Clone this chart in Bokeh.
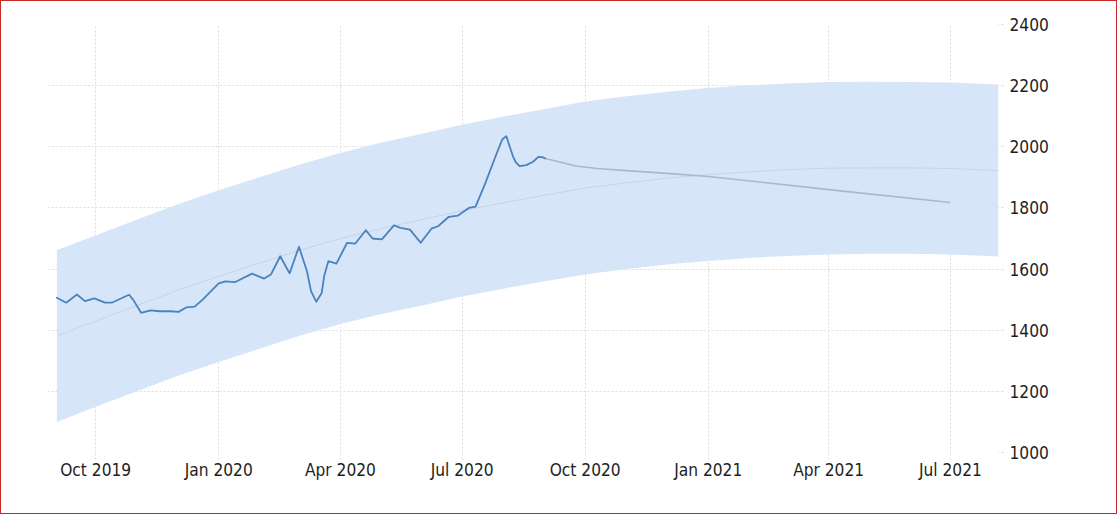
import pandas as pd
from bokeh.plotting import figure
from bokeh.models import ColumnDataSource, FixedTicker, DatetimeTickFormatter, Range1d
from bokeh.embed import file_html
from bokeh.resources import INLINE

# ---- data ----
price_dates = [
    "2019-09-02", "2019-09-09", "2019-09-17", "2019-09-23", "2019-09-30", "2019-10-08",
    "2019-10-13", "2019-10-26", "2019-10-29", "2019-11-04", "2019-11-11", "2019-11-18",
    "2019-11-26", "2019-12-02", "2019-12-08", "2019-12-14", "2019-12-20", "2019-12-25",
    "2020-01-01", "2020-01-06", "2020-01-13", "2020-01-26", "2020-02-04", "2020-02-09",
    "2020-02-16", "2020-02-23", "2020-03-01", "2020-03-07", "2020-03-10", "2020-03-14",
    "2020-03-18", "2020-03-20", "2020-03-23", "2020-03-29", "2020-04-06", "2020-04-12",
    "2020-04-20", "2020-04-25", "2020-05-02", "2020-05-11", "2020-05-16", "2020-05-23",
    "2020-05-31", "2020-06-08", "2020-06-13", "2020-06-21", "2020-06-28", "2020-07-06",
    "2020-07-11", "2020-07-18", "2020-07-26", "2020-07-31", "2020-08-03", "2020-08-05",
    "2020-08-08", "2020-08-10", "2020-08-13", "2020-08-18", "2020-08-23", "2020-08-27",
    "2020-08-30", "2020-09-01",
]
price_values = [
    1506, 1490, 1517, 1495, 1504, 1490,
    1490, 1516, 1500, 1457, 1465, 1462,
    1462, 1460, 1475, 1477, 1500, 1522,
    1553, 1560, 1557, 1585, 1569, 1582,
    1642, 1586, 1673, 1593, 1528, 1493,
    1522, 1580, 1626, 1618, 1686, 1683,
    1727, 1700, 1697, 1743, 1735, 1729,
    1686, 1732, 1740, 1771, 1775, 1800,
    1804, 1877, 1969, 2024, 2035, 2008,
    1969, 1950, 1937, 1940, 1951, 1967,
    1966, 1962,
]

forecast_dates = ["2020-09-01", "2020-09-12", "2020-09-24", "2020-10-10", "2020-11-01",
                  "2020-12-01", "2021-01-01", "2021-04-01", "2021-07-01"]
forecast_values = [1962, 1950, 1937, 1929, 1922, 1913, 1903, 1860, 1818]

band_dates = ["2019-09-02", "2019-10-01", "2019-11-01", "2019-12-01", "2020-01-01",
              "2020-02-01", "2020-03-01", "2020-04-01", "2020-05-01", "2020-06-01",
              "2020-07-01", "2020-08-01", "2020-09-01", "2020-10-01", "2020-11-01",
              "2020-12-01", "2021-01-01", "2021-02-01", "2021-03-01", "2021-04-01",
              "2021-05-01", "2021-06-01", "2021-07-01", "2021-08-06"]
band_upper = [1662, 1710, 1762, 1811, 1858, 1901, 1941, 1980, 2013, 2043, 2072, 2099,
              2124, 2148, 2165, 2180, 2192, 2201, 2207, 2212, 2213, 2212, 2210, 2204]
band_lower = [1100, 1150, 1200, 1250, 1296, 1340, 1381, 1420, 1452, 1481, 1510, 1536,
              1560, 1582, 1600, 1615, 1626, 1636, 1643, 1648, 1650, 1650, 1648, 1641]
trend_values = [1381, 1430, 1481, 1530, 1577, 1620, 1661, 1700, 1732, 1762, 1791, 1817,
                1842, 1865, 1882, 1897, 1909, 1918, 1925, 1930, 1931, 1931, 1929, 1922]

x_tick_dates = ["2019-10-01", "2020-01-01", "2020-04-01", "2020-07-01",
                "2020-10-01", "2021-01-01", "2021-04-01", "2021-07-01"]
y_ticks = [1000, 1200, 1400, 1600, 1800, 2000, 2200, 2400]

x_start, x_end = "2019-08-26", "2021-08-06"
y_start, y_end = 1000, 2400

# ---- sources ----
price_src = ColumnDataSource(dict(x=pd.to_datetime(price_dates), y=price_values))
fc_src = ColumnDataSource(dict(x=pd.to_datetime(forecast_dates), y=forecast_values))
band_src = ColumnDataSource(dict(x=pd.to_datetime(band_dates), upper=band_upper,
                                  lower=band_lower, trend=trend_values))

FONT = "DejaVu Sans Condensed"
GRID = "#dcdcdc"

p = figure(width=1117, height=514, x_axis_type="datetime", y_axis_location="right",
           x_range=Range1d(pd.Timestamp(x_start), pd.Timestamp(x_end)),
           y_range=Range1d(y_start, y_end),
           output_backend="svg", toolbar_location=None,
           min_border_left=46, min_border_right=120, min_border_top=23, min_border_bottom=63)
p.styles = {"margin": "0px", "border": "1px solid #c62828"}
p.outline_line_color = None
p.background_fill_color = "white"
p.border_fill_color = "white"

p.varea(x="x", y1="lower", y2="upper", source=band_src, fill_color="#d6e6f8", fill_alpha=1.0)
p.line(x="x", y="trend", source=band_src, line_color="#c9d3e0", line_width=1)
p.line(x="x", y="y", source=fc_src, line_color="#aab8cb", line_width=1.6, line_join="round")
p.line(x="x", y="y", source=price_src, line_color="#4a82bd", line_width=1.8,
       line_join="round", line_cap="round")

xt = FixedTicker(ticks=[pd.Timestamp(d).value // 10**6 for d in x_tick_dates])
yt = FixedTicker(ticks=y_ticks)

xa = p.xaxis[0]
xa.ticker = xt
fmt = "%b %Y"
xa.formatter = DatetimeTickFormatter(milliseconds=fmt, seconds=fmt, minsec=fmt, minutes=fmt,
                                     hourmin=fmt, hours=fmt, days=fmt, months=fmt, years=fmt)
ya = p.yaxis[0]
ya.ticker = yt

for ax in (xa, ya):
    ax.axis_line_color = None
    ax.major_tick_line_color = GRID
    ax.major_tick_line_dash = "2 2"
    ax.major_tick_in = 0
    ax.minor_tick_line_color = None
    ax.major_label_text_font = FONT
    ax.major_label_text_font_size = "17.2px"
    ax.major_label_text_color = "#1e1e1e"
xa.major_tick_out = 7
xa.major_label_standoff = 0
ya.major_tick_out = 5
ya.major_label_standoff = 6

p.xgrid.ticker = xt
p.ygrid.ticker = yt
for g in (p.xgrid, p.ygrid):
    g.grid_line_color = GRID
    g.grid_line_dash = "2 2"
    g.grid_line_width = 1

open("out.html", "w").write(file_html(p, INLINE))
